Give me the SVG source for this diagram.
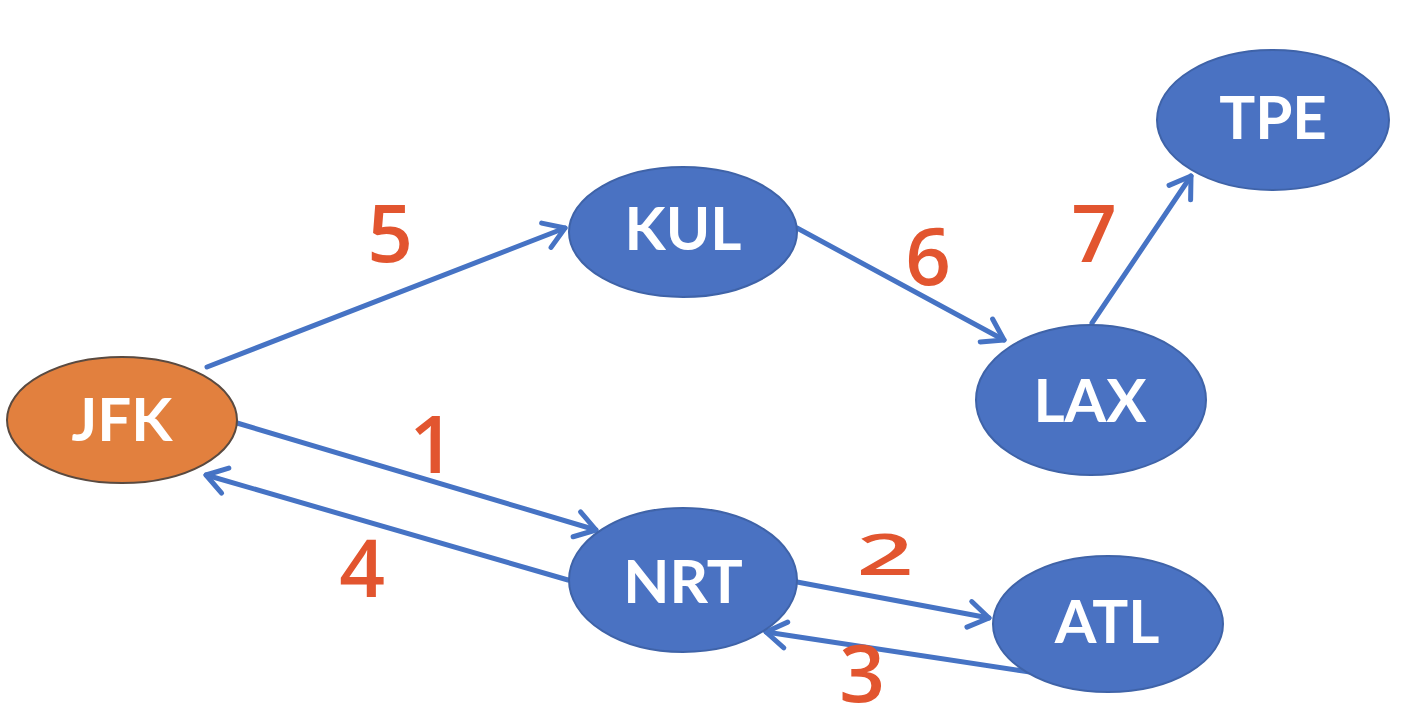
<svg xmlns="http://www.w3.org/2000/svg" width="1428" height="726" viewBox="0 0 1428 726">
<style>
.node{fill:#4A72C2;stroke:#3F63A8;stroke-width:2}
.start{fill:#E2803E;stroke:#5A4A40;stroke-width:2}
.lbl{font-family:Lato,"Open Sans","Liberation Sans",sans-serif;font-weight:bold;font-size:60px;fill:#FFFFFF;text-anchor:middle}
.edge{stroke:#4673C4;stroke-width:5;fill:none;stroke-linecap:round}
.num{font-family:"Open Sans","Liberation Sans",sans-serif;font-weight:600;font-size:80px;fill:#E2552F;text-anchor:middle}
</style>
<defs>
<marker id="arr" markerUnits="userSpaceOnUse" markerWidth="44" markerHeight="44" refX="26" refY="22" orient="auto" viewBox="0 0 44 44">
<path d="M6,9 L26,22 L6,35" fill="none" stroke="#4673C4" stroke-width="5" stroke-linecap="round" stroke-linejoin="round"/>
</marker>
</defs>
<rect width="1428" height="726" fill="#FFFFFF"/>
<g id="connectors">
<line class="edge" x1="207" y1="367" x2="565" y2="228" marker-end="url(#arr)"/>
<line class="edge" x1="797" y1="228" x2="1004" y2="340" marker-end="url(#arr)"/>
<line class="edge" x1="1092" y1="323" x2="1191" y2="176" marker-end="url(#arr)"/>
<line class="edge" x1="237" y1="423" x2="596" y2="530" marker-end="url(#arr)"/>
<line class="edge" x1="568" y1="580" x2="206" y2="475" marker-end="url(#arr)"/>
<line class="edge" x1="797" y1="582" x2="989" y2="618" marker-end="url(#arr)"/>
<line class="edge" x1="1030" y1="672" x2="766" y2="632" marker-end="url(#arr)"/>
</g>
<g id="JFK"><ellipse class="start" cx="122" cy="420" rx="115" ry="63"/><text class="lbl" x="122" y="441">JFK</text></g>
<g id="KUL"><ellipse class="node" cx="683" cy="232" rx="114" ry="65"/><text class="lbl" x="683" y="250">KUL</text></g>
<g id="LAX"><ellipse class="node" cx="1091" cy="400" rx="115" ry="75"/><text class="lbl" x="1090" y="422">LAX</text></g>
<g id="TPE"><ellipse class="node" cx="1273" cy="120" rx="116" ry="70"/><text class="lbl" x="1273" y="139">TPE</text></g>
<g id="NRT"><ellipse class="node" cx="683" cy="580" rx="114" ry="72"/><text class="lbl" x="683" y="603">NRT</text></g>
<g id="ATL"><ellipse class="node" cx="1108" cy="624" rx="115" ry="68"/><text class="lbl" x="1107" y="643">ATL</text></g>
<g id="labels">
<text class="num" x="390" y="262">5</text>
<text class="num" x="928" y="285">6</text>
<text class="num" x="1094" y="262">7</text>
<text class="num" x="432" y="473">1</text>
<text class="num" x="362" y="597">4</text>
<text class="num" transform="translate(885,575) scale(1.25,0.72)" x="0" y="0">2</text>
<text class="num" x="862" y="702" font-size="64">3</text>
</g>
</svg>
